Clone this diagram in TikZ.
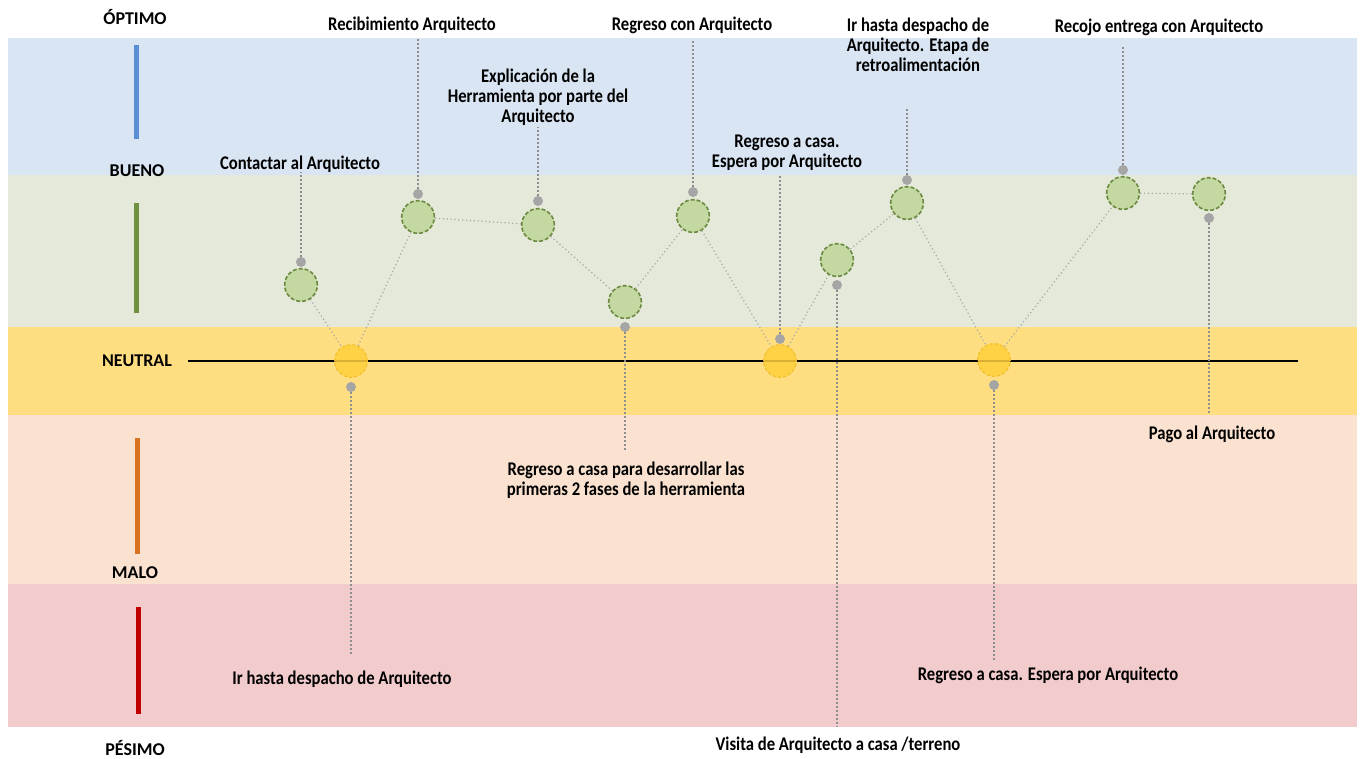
\documentclass[tikz,border=0pt]{standalone}
\usepackage{fontspec}
\setmainfont{Carlito}
\newfontfamily\evfont[FakeStretch=0.86]{Carlito}
\definecolor{bandblue}{HTML}{DAE5F3}
\definecolor{bandgreen}{HTML}{E4E9D9}
\definecolor{bandyellow}{HTML}{FFDE82}
\definecolor{bandpeach}{HTML}{FBE2D0}
\definecolor{bandpink}{HTML}{F2CBCD}
\definecolor{barblue}{HTML}{5B8ED2}
\definecolor{bargreen}{HTML}{6F9140}
\definecolor{barorange}{HTML}{D9731F}
\definecolor{barred}{HTML}{C00000}
\definecolor{cgreenfill}{HTML}{C4D8A2}
\definecolor{cgreenline}{HTML}{6B8A3F}
\definecolor{cyellowfill}{HTML}{FFCF3A}
\definecolor{cyellowline}{HTML}{F0BE2A}
\definecolor{dotgray}{HTML}{A5A5A5}
\definecolor{linegray}{HTML}{A8A8A8}
\definecolor{vgray}{HTML}{8E8E8E}
\begin{document}
\begin{tikzpicture}[x=0.75pt,y=-0.75pt,
  levlabel/.style={font=\fontsize{13.5}{15}\selectfont\bfseries, inner sep=0pt},
  evlabel/.style={font=\evfont\fontsize{14.5}{15}\selectfont\bfseries, inner sep=0pt, align=center},
  gcirc/.style={circle, minimum size=24.5pt, inner sep=0pt, fill=cgreenfill, draw=cgreenline, dashed, line width=1.2pt, dash pattern=on 3pt off 1.5pt},
  ycirc/.style={circle, minimum size=24.5pt, inner sep=0pt, fill=cyellowfill, fill opacity=0.85, draw=cyellowline, dashed, line width=0.8pt, dash pattern=on 2.5pt off 1.5pt},
  gdot/.style={circle, minimum size=7.5pt, inner sep=0pt, fill=dotgray},
  link/.style={draw=linegray, line width=0.9pt, dotted},
  vline/.style={draw=vgray, line width=1pt, dotted},
  lbar/.style={line width=3.75pt}
]
\useasboundingbox (0,0) rectangle (1364,758);
\fill[white] (0,0) rectangle (1364,758);
% bands
\fill[bandblue] (8,38) rectangle (1357,175);
\fill[bandgreen] (8,175) rectangle (1357,327);
\fill[bandyellow] (8,327) rectangle (1357,415);
\fill[bandpeach] (8,415) rectangle (1357,584);
\fill[bandpink] (8,584) rectangle (1357,727);
% level bars
\draw[lbar, barblue] (136,45) -- (136,139);
\draw[lbar, bargreen] (136,203) -- (136,313);
\draw[lbar, barorange] (137,438) -- (137,554);
\draw[lbar, barred] (138,607) -- (138,714);
% level labels
\node[levlabel] (optimo) at (135,17) {ÓPTIMO};
\node[levlabel] (bueno) at (137,171) {BUENO};
\node[levlabel] (neutral) at (137,361) {NEUTRAL};
\node[levlabel] (malo) at (135,573) {MALO};
\node[levlabel] (pesimo) at (135,748) {PÉSIMO};
% neutral axis
\coordinate (axL) at (188,361);
\coordinate (axR) at (1298,361);
\draw[black, line width=1.5pt] (axL) -- (axR);
% circles
\node[gcirc] (c1) at (301,285) {};
\node[ycirc] (c2) at (351,361) {};
\node[gcirc] (c3) at (418,217) {};
\node[gcirc] (c4) at (538,225) {};
\node[gcirc] (c5) at (625,302) {};
\node[gcirc] (c6) at (693,216) {};
\node[ycirc] (c7) at (780,361) {};
\node[gcirc] (c8) at (837,260) {};
\node[gcirc] (c9) at (907,203) {};
\node[ycirc] (c10) at (994,360) {};
\node[gcirc] (c11) at (1123,193) {};
\node[gcirc] (c12) at (1209,194) {};
% links between circles
\draw[link] (c1) -- (c2);
\draw[link] (c2) -- (c3);
\draw[link] (c3) -- (c4);
\draw[link] (c4) -- (c5);
\draw[link] (c5) -- (c6);
\draw[link] (c6) -- (c7);
\draw[link] (c7) -- (c8);
\draw[link] (c8) -- (c9);
\draw[link] (c9) -- (c10);
\draw[link] (c10) -- (c11);
\draw[link] (c11) -- (c12);
% dots
\node[gdot] (d1) at (301,262) {};
\node[gdot] (d2) at (351,387) {};
\node[gdot] (d3) at (418,194) {};
\node[gdot] (d4) at (538,201) {};
\node[gdot] (d5) at (625,327) {};
\node[gdot] (d6) at (693,192) {};
\node[gdot] (d7) at (780,339) {};
\node[gdot] (d8) at (837,285) {};
\node[gdot] (d9) at (907,180) {};
\node[gdot] (d10) at (994,385) {};
\node[gdot] (d11) at (1123,170) {};
\node[gdot] (d12) at (1209,218) {};
% labels
\node[evlabel] (l1) at (300,164) {Contactar al Arquitecto};
\node[evlabel] (l2) at (342,679) {Ir hasta despacho de Arquitecto};
\node[evlabel] (l3) at (412,25) {Recibimiento Arquitecto};
\node[evlabel] (l4) at (538,97) {Explicación de la\\Herramienta por parte del\\Arquitecto};
\node[evlabel] (l5) at (626,480) {Regreso a casa para desarrollar las\\primeras 2 fases de la herramienta};
\node[evlabel] (l6) at (692,25) {Regreso con Arquitecto};
\node[evlabel] (l7) at (787,153) {Regreso a casa.\\Espera por Arquitecto};
\node[evlabel] (l8) at (838,745) {Visita de Arquitecto a casa /terreno};
\node[evlabel] (l9) at (918,45) {Ir hasta despacho de\\Arquitecto. Etapa de\\retroalimentación};
\node[evlabel] (l10) at (1048,675) {Regreso a casa. Espera por Arquitecto};
\node[evlabel] (l11) at (1159,27) {Recojo entrega con Arquitecto};
\node[evlabel] (l12) at (1212,434) {Pago al Arquitecto};
% connector ends
\coordinate (e1) at (301,172);
\coordinate (e2) at (351,655);
\coordinate (e3) at (418,38);
\coordinate (e4) at (538,127);
\coordinate (e5) at (625,452);
\coordinate (e6) at (693,39);
\coordinate (e7) at (780,175);
\coordinate (e8) at (837,727);
\coordinate (e9) at (907,107);
\coordinate (e10) at (994,660);
\coordinate (e11) at (1123,46);
\coordinate (e12) at (1209,415);
\foreach \i in {1,...,12} { \draw[vline] (d\i) -- (e\i); }
\end{tikzpicture}
\end{document}
